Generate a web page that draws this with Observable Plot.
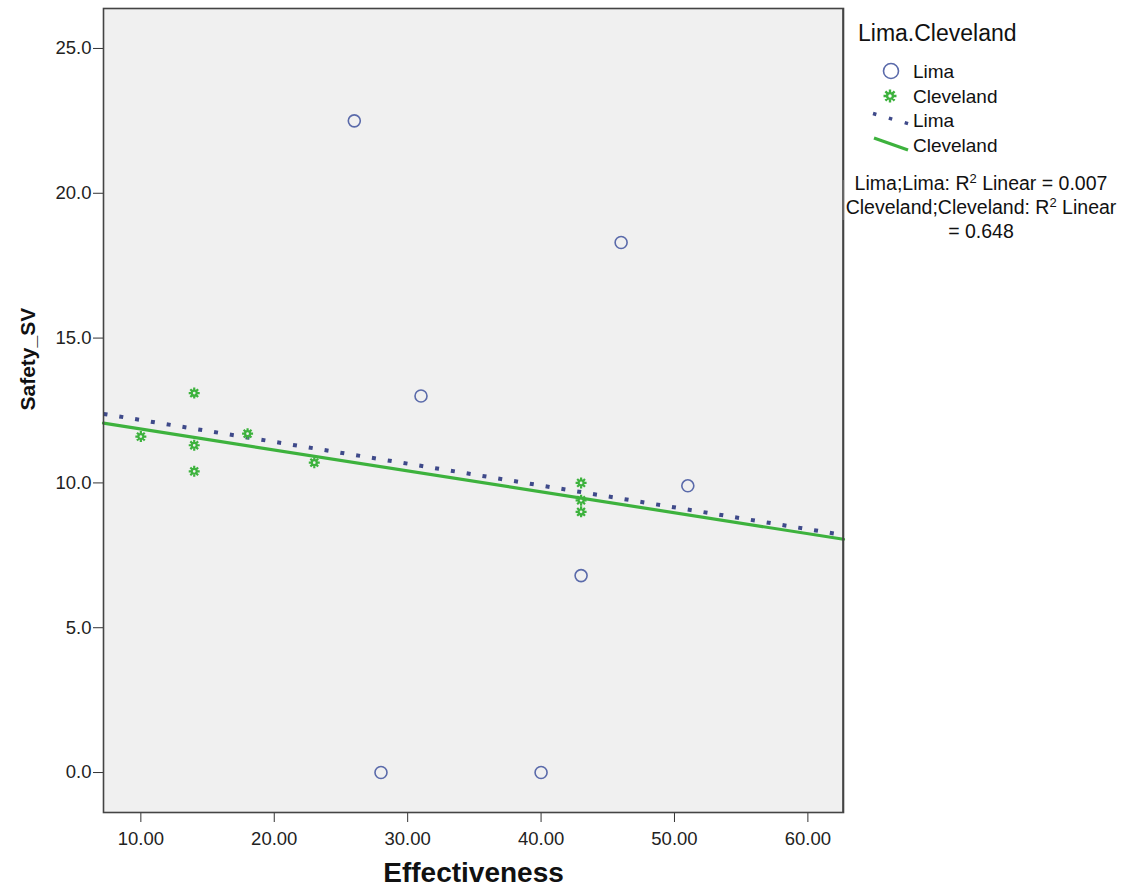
<!DOCTYPE html>
<html><head><meta charset="utf-8">
<script src="https://cdn.jsdelivr.net/npm/d3@7"></script>
<script src="https://cdn.jsdelivr.net/npm/@observablehq/plot@0.6"></script>
<style>
html,body{margin:0;padding:0;background:#fff;}
#chart{width:1122px;height:894px;}
</style></head>
<body><div id="chart"></div>
<script>
// Data
const limaX = [26, 46, 31, 51, 43, 28, 40];
const limaY = [22.5, 18.3, 13.0, 9.9, 6.8, 0.0, 0.0];
const clevX = [10, 14, 14, 14, 18, 23, 43, 43, 43];
const clevY = [11.6, 13.1, 11.3, 10.4, 11.7, 10.7, 10.0, 9.4, 9.0];
const xTicks = [10, 20, 30, 40, 50, 60];
const yTicks = [0, 5, 10, 15, 20, 25];
const xDomain = [7.2, 62.67];
const yDomain = [-1.38, 26.38];
const groupTitle = "Lima.Cleveland";
const groups = ["Lima", "Cleveland"];

const blue = "#5a6aaa", dotBlue = "#3f4a8a", green = "#3db23d";

function regress(xs, ys) {
  const mx = d3.mean(xs), my = d3.mean(ys);
  let sxy = 0, sxx = 0, syy = 0;
  xs.forEach((x, i) => { sxy += (x - mx) * (ys[i] - my); sxx += (x - mx) ** 2; syy += (ys[i] - my) ** 2; });
  const b = sxy / sxx;
  return {b, a: my - b * mx, r2: sxy * sxy / (sxx * syy)};
}
const limaFit = regress(limaX, limaY), clevFit = regress(clevX, clevY);
const limaPts = limaX.map((x, i) => ({x, y: limaY[i]}));
const clevPts = clevX.map((x, i) => ({x, y: clevY[i]}));
const fitLine = f => xDomain.map(x => ({x, y: f.a + f.b * x}));

const sun = {
  draw(ctx, size) {
    const r = Math.sqrt(size / Math.PI);
    const ri = r * 0.45;
    ctx.moveTo(ri, 0); ctx.arc(0, 0, ri, 0, 2 * Math.PI);
    for (let k = 0; k < 8; k++) {
      const t = k * Math.PI / 4;
      ctx.moveTo(Math.cos(t) * ri, Math.sin(t) * ri);
      ctx.lineTo(Math.cos(t) * r, Math.sin(t) * r);
    }
  }
};

const font = "'Liberation Sans', Arial, sans-serif";
const plot = Plot.plot({
  width: 1122, height: 894,
  marginLeft: 103, marginRight: 279, marginTop: 8, marginBottom: 82,
  style: {fontFamily: font, fontSize: "18px", color: "#222", background: "#fff"},
  x: {domain: xDomain},
  y: {domain: yDomain},
  marks: [
    Plot.frame({fill: "#f0f0f0", stroke: "none"}),
    Plot.axisX({ticks: xTicks, tickFormat: d => d.toFixed(2), tickSize: 10, tickPadding: 9, label: null, stroke: "#333", fontSize: 18.5}),
    Plot.axisY({ticks: yTicks, tickFormat: d => d.toFixed(1), tickSize: 10, tickPadding: 2, label: null, stroke: "#333", fontSize: 18.5}),
    Plot.line(fitLine(clevFit), {x: "x", y: "y", stroke: green, strokeWidth: 3.2}),
    Plot.line(fitLine(limaFit), {x: "x", y: "y", stroke: dotBlue, strokeWidth: 4, strokeDasharray: "4,12", strokeLinecap: "butt"}),
    Plot.dot(limaPts, {x: "x", y: "y", r: 6, stroke: blue, strokeWidth: 1.6, fill: "none"}),
    Plot.dot(clevPts, {x: "x", y: "y", r: 5.5, symbol: sun, stroke: green, strokeWidth: 2.2, fill: "none"}),
    Plot.frame({stroke: "#444", strokeWidth: 1.6}),
    Plot.text(["Effectiveness"], {frameAnchor: "bottom", dy: 69, fontWeight: "bold", fontSize: 28, fill: "#111"}),
    Plot.text(["Safety_SV"], {frameAnchor: "left", dx: -75, rotate: -90, fontWeight: "bold", fontSize: 21, fill: "#111"})
  ]
});
document.getElementById("chart").appendChild(plot);

// Legend
const svg = d3.select(plot);
const g = svg.append("g").attr("font-family", font).attr("fill", "#111").attr("text-anchor", "start");
g.append("text").attr("x", 858).attr("y", 41).attr("font-size", 23).text(groupTitle);
g.append("circle").attr("cx", 891).attr("cy", 71).attr("r", 7.5).attr("fill", "none").attr("stroke", blue).attr("stroke-width", 1.6);
g.append("text").attr("x", 913).attr("y", 78).attr("font-size", 19).text(groups[0]);
g.append("path").attr("transform", "translate(890,96)").attr("d", d3.symbol(sun, Math.PI * 42)()).attr("fill", "none").attr("stroke", green).attr("stroke-width", 2.4);
g.append("text").attr("x", 913).attr("y", 103).attr("font-size", 19).text(groups[1]);
g.append("line").attr("x1", 873).attr("y1", 113.5).attr("x2", 911).attr("y2", 124.5).attr("stroke", dotBlue).attr("stroke-width", 3.5).attr("stroke-dasharray", "3.5,13");
g.append("text").attr("x", 913).attr("y", 127).attr("font-size", 19).text(groups[0]);
g.append("line").attr("x1", 874).attr("y1", 138).attr("x2", 908).attr("y2", 150).attr("stroke", green).attr("stroke-width", 3.2);
g.append("text").attr("x", 913).attr("y", 152).attr("font-size", 19).text(groups[1]);
const r2 = g.append("g").attr("font-size", 19.5).attr("text-anchor", "middle");
const t1 = r2.append("text").attr("x", 981).attr("y", 190);
t1.append("tspan").text(`${groups[0]};${groups[0]}: R`);
t1.append("tspan").attr("dy", -7).attr("font-size", 13).text("2");
t1.append("tspan").attr("dy", 7).text(` Linear = ${limaFit.r2.toFixed(3)}`);
const t2 = r2.append("text").attr("x", 981).attr("y", 214);
t2.append("tspan").text(`${groups[1]};${groups[1]}: R`);
t2.append("tspan").attr("dy", -7).attr("font-size", 13).text("2");
t2.append("tspan").attr("dy", 7).text(" Linear");
r2.append("text").attr("x", 981).attr("y", 238).text(`= ${clevFit.r2.toFixed(3)}`);
// mask left of frame and redraw frame edge over clipped text start
svg.append("rect").attr("x", 830).attr("y", 180).attr("width", 14).attr("height", 40).attr("fill", "#f0f0f0");
svg.append("line").attr("x1", 843).attr("x2", 843).attr("y1", 8).attr("y2", 812).attr("stroke", "#444").attr("stroke-width", 1.6);
</script></body></html>
